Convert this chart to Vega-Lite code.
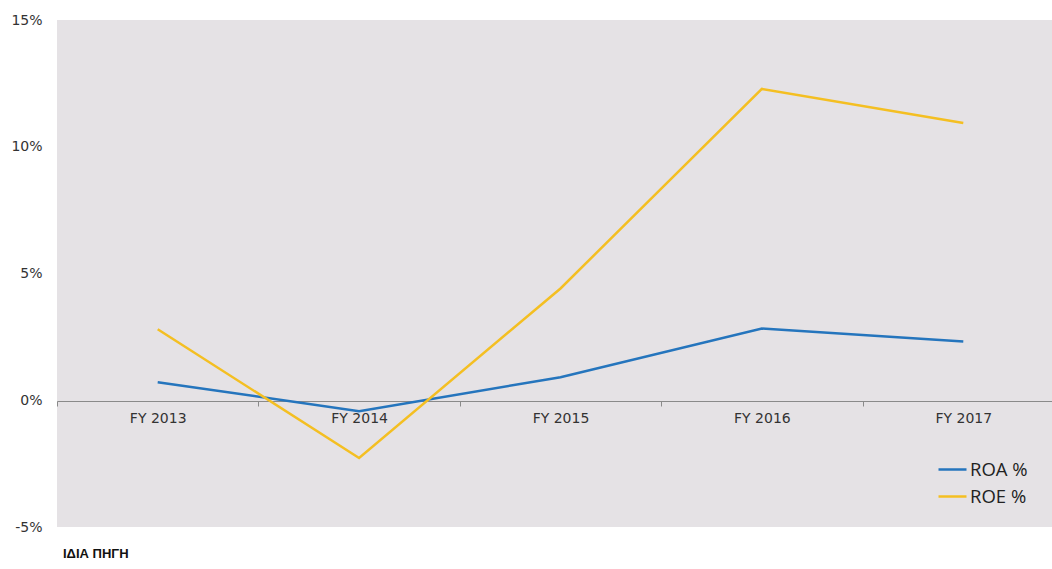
{
  "$schema": "https://vega.github.io/schema/vega-lite/v6.json",
  "width": 995,
  "height": 507,
  "autosize": {"type": "none"},
  "padding": {"left": 57, "top": 20, "right": 0, "bottom": 42},
  "background": "#ffffff",
  "view": {"fill": "#E5E2E5", "stroke": null},
  "title": {
    "text": "ΙΔΙΑ ΠΗΓΗ",
    "orient": "bottom",
    "anchor": "start",
    "frame": "group",
    "offset": 14,
    "dx": 6,
    "font": "Liberation Sans",
    "fontSize": 13,
    "fontWeight": "bold",
    "color": "#111111"
  },
  "data": {
    "values": [
      {"year": "FY 2013", "series": "ROA %", "value": 0.71},
      {"year": "FY 2014", "series": "ROA %", "value": -0.43},
      {"year": "FY 2015", "series": "ROA %", "value": 0.91},
      {"year": "FY 2016", "series": "ROA %", "value": 2.83},
      {"year": "FY 2017", "series": "ROA %", "value": 2.32},
      {"year": "FY 2013", "series": "ROE %", "value": 2.8},
      {"year": "FY 2014", "series": "ROE %", "value": -2.28},
      {"year": "FY 2015", "series": "ROE %", "value": 4.41},
      {"year": "FY 2016", "series": "ROE %", "value": 12.28},
      {"year": "FY 2017", "series": "ROE %", "value": 10.94}
    ]
  },
  "mark": {"type": "line", "strokeWidth": 2.5},
  "encoding": {
    "x": {
      "field": "year",
      "type": "nominal",
      "sort": null,
      "scale": {"range": [0, 1007], "paddingInner": 0, "paddingOuter": 0},
      "axis": {
        "title": null,
        "labelAngle": 0,
        "offset": -126,
        "tickBand": "extent",
        "domainColor": "#8a8a8a",
        "tickColor": "#8a8a8a",
        "tickSize": 5,
        "labelPadding": 5,
        "labelFont": "DejaVu Sans",
        "labelFontSize": 14,
        "labelColor": "#333333",
        "grid": false
      }
    },
    "y": {
      "field": "value",
      "type": "quantitative",
      "scale": {"domain": [-5, 15], "nice": false, "zero": false},
      "axis": {
        "title": null,
        "values": [-5, 0, 5, 10, 15],
        "labelExpr": "datum.value + '%'",
        "domain": false,
        "ticks": false,
        "grid": false,
        "labelPadding": 15,
        "labelFont": "DejaVu Sans",
        "labelFontSize": 14,
        "labelColor": "#333333"
      }
    },
    "color": {
      "field": "series",
      "type": "nominal",
      "scale": {"domain": ["ROA %", "ROE %"], "range": ["#2575BD", "#F4BF22"]},
      "legend": {
        "title": null,
        "orient": "none",
        "legendX": 880,
        "legendY": 434,
        "symbolType": "stroke",
        "symbolSize": 784,
        "symbolStrokeWidth": 2.5,
        "labelOffset": 2,
        "labelFont": "Open Sans",
        "labelFontSize": 18.5,
        "labelColor": "#222222",
        "rowPadding": 2
      }
    }
  }
}
